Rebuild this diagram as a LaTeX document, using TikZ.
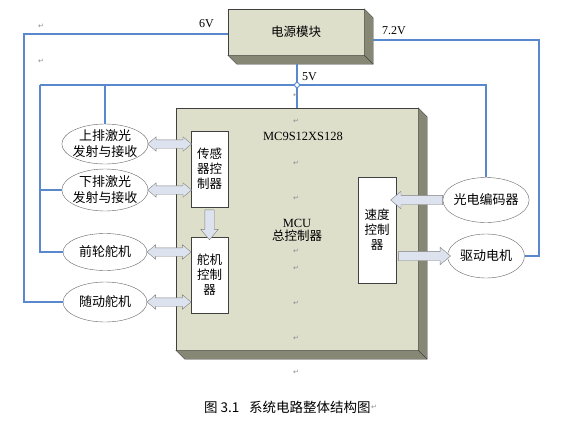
\documentclass[tikz,border=0pt]{standalone}
\usepackage{fontspec}
\setmainfont{Liberation Serif}
\newfontfamily\cjk{Noto Sans CJK SC}
\newfontfamily\symf{DejaVu Sans}
\usetikzlibrary{positioning,calc,shapes.geometric,shapes.arrows}

\definecolor{boxfill}{HTML}{DEDFCB}
\definecolor{sidefill}{HTML}{878775}
\definecolor{wireblue}{HTML}{5A88CC}
\definecolor{arrowfill}{HTML}{DCE3EF}

\newcommand\cjkf{\cjk\fontsize{12.5}{15}\selectfont}
\newcommand\devf{\cjk\fontsize{13}{16}\selectfont}
% side and bottom faces of a raised box
\newcommand\boxside[1]{%
  \filldraw[draw=black!75, fill=sidefill] (#1.north east) -- ++(9,9)
    -- ($(#1.south east)+(9,9)$) -- ($(#1.south west)+(9,9)$)
    -- (#1.south west) -- (#1.south east) -- cycle;
  \draw[black!75] (#1.south east) -- ++(9,9);}

\begin{document}
\begin{tikzpicture}[x=1pt, y=-1pt,
    box3d/.style={draw=black!75, fill=boxfill, inner sep=0pt, font=\cjkf},
    ctl/.style={draw=black!75, fill=white, align=center, inner sep=0pt,
                minimum width=37pt, font=\cjkf},
    dev/.style={ellipse, draw=black!60, fill=white, align=center,
                inner xsep=-2pt, inner ysep=-4pt, minimum width=84pt,
                minimum height=40pt, font=\devf},
    wire/.style={draw=wireblue, line width=1.1pt},
    lbl/.style={font=\rmfamily\fontsize{12}{14}\selectfont, inner sep=0pt},
    dblarrow/.style={double arrow, draw=black!50, fill=arrowfill, inner sep=4pt,
                double arrow head extend=3pt,
                double arrow tip angle=80, minimum height=#1},
    sglarrow/.style={single arrow, draw=black!50, fill=arrowfill, inner sep=4.5pt,
                single arrow head extend=4pt,
                single arrow tip angle=80, minimum height=#1},
    ret/.style={font=\symf\fontsize{7}{7}\selectfont, text=black!45, inner sep=0pt}]
  \useasboundingbox (0,0) rectangle (582,432);

  % raised boxes
  \node[box3d, minimum width=136pt, minimum height=46pt] (pwr) at (296,32) {电源模块};
  \boxside{pwr}
  \node[box3d, minimum width=242pt, minimum height=242pt] (mcu) at (297,229) {};
  \boxside{mcu}
  \node[lbl, font=\rmfamily\fontsize{12.5}{14}\selectfont] (chip) at (303,136) {MC9S12XS128};
  \node[lbl, font=\rmfamily\fontsize{12.5}{14}\selectfont] (mcut) at (297,223) {MCU};
  \node[inner sep=0pt, font=\cjkf, below=2pt of mcut] (mcuc) {总控制器};

  % controllers inside the MCU
  \node[ctl, minimum height=76pt]  (sens) at (209.5,169) {传感\\器控\\制器};
  \node[ctl, minimum height=76pt]  (srv)  at (209.5,275) {舵机\\控制\\器};
  \node[ctl, minimum width=38pt, minimum height=106pt] (spd) at (377,230) {速度\\控制\\器};

  % devices
  \node[dev, minimum height=40pt] (up)   at (105,144) {上排激光\\发射与接收};
  \node[dev, minimum height=42pt] (down) at (105,190) {下排激光\\发射与接收};
  \node[dev, minimum height=37pt] (front) at (105,252) {前轮舵机};
  \node[dev, minimum height=40pt] (follow) at (105,302) {随动舵机};
  \node[dev, minimum width=77pt, minimum height=45pt] (enc) at (486,200) {光电编码器};
  \node[dev, minimum width=77pt, minimum height=44pt] (mot) at (486,256) {驱动电机};

  % power wires
  \coordinate (l6) at (24,34);
  \coordinate (r72) at (539,40);
  \coordinate (j5) at (297,85);
  \coordinate (bl) at (40,85);
  \coordinate (br) at (486,85);
  \draw[wire] ([yshift=-2pt]pwr.west) -- (l6) |- (follow.west);
  \draw[wire] ($(pwr.east)+(9,8)$) -- (r72) |- (mot.east);
  \draw[wire] ($(pwr.south)+(1,9)$) -- (j5) -- (mcu.north -| j5);
  \draw[wire] (bl) -- (br) -- (enc.north);
  \draw[wire] (bl) |- (front.west);
  \draw[wire] (down.west) -- (down.west -| bl);
  \draw[wire] (up.north |- bl) -- (up.north);
  \draw[wireblue, line width=0.9pt, fill=white] (j5) circle (2.5);
  \node[lbl, anchor=south west] (v6) at (199,28) {6V};
  \node[lbl, anchor=south west] (v72) at (382,35) {7.2V};
  \node[lbl, anchor=south west] (v5) at (302,81) {5V};

  % block arrows
  \node[dblarrow=44pt] (a1) at ($(up.east)!.5!(sens.west |- up.east)$) {};
  \node[dblarrow=44pt] (a2) at ($(down.east)!.5!(sens.west |- down.east)$) {};
  \node[dblarrow=44pt] (a3) at ($(front.east)!.5!(srv.west |- front.east)$) {};
  \node[dblarrow=44pt] (a4) at ($(follow.east)!.5!(srv.west |- follow.east)$) {};
  \node[sglarrow=30pt, shape border rotate=270] (a5) at ($(sens.south)!.5!(srv.north)$) {};
  \node[sglarrow=52pt, shape border rotate=180] (a6) at ($(enc.west)!.5!(spd.east |- enc.west)$) {};
  \node[sglarrow=52pt] (a7) at ($(spd.east |- mot.west)!.5!(mot.west)$) {};

  % paragraph marks
  \foreach \p in {(41,26),(41,61),(296,95),(296,121),(296,163),(296,198),
                  (296,251),(296,268),(296,303),(296,338),(296,372)}
    \node[ret] at \p {↵};

  % caption
  \node[anchor=west, inner sep=0pt, font=\cjk\fontsize{13.5}{16}\selectfont] (cap)
    at (204,407) {图 3.1\enspace\ 系统电路整体结构图};
  \node[ret, right=0pt of cap] (capret) {↵};
\end{tikzpicture}
\end{document}
